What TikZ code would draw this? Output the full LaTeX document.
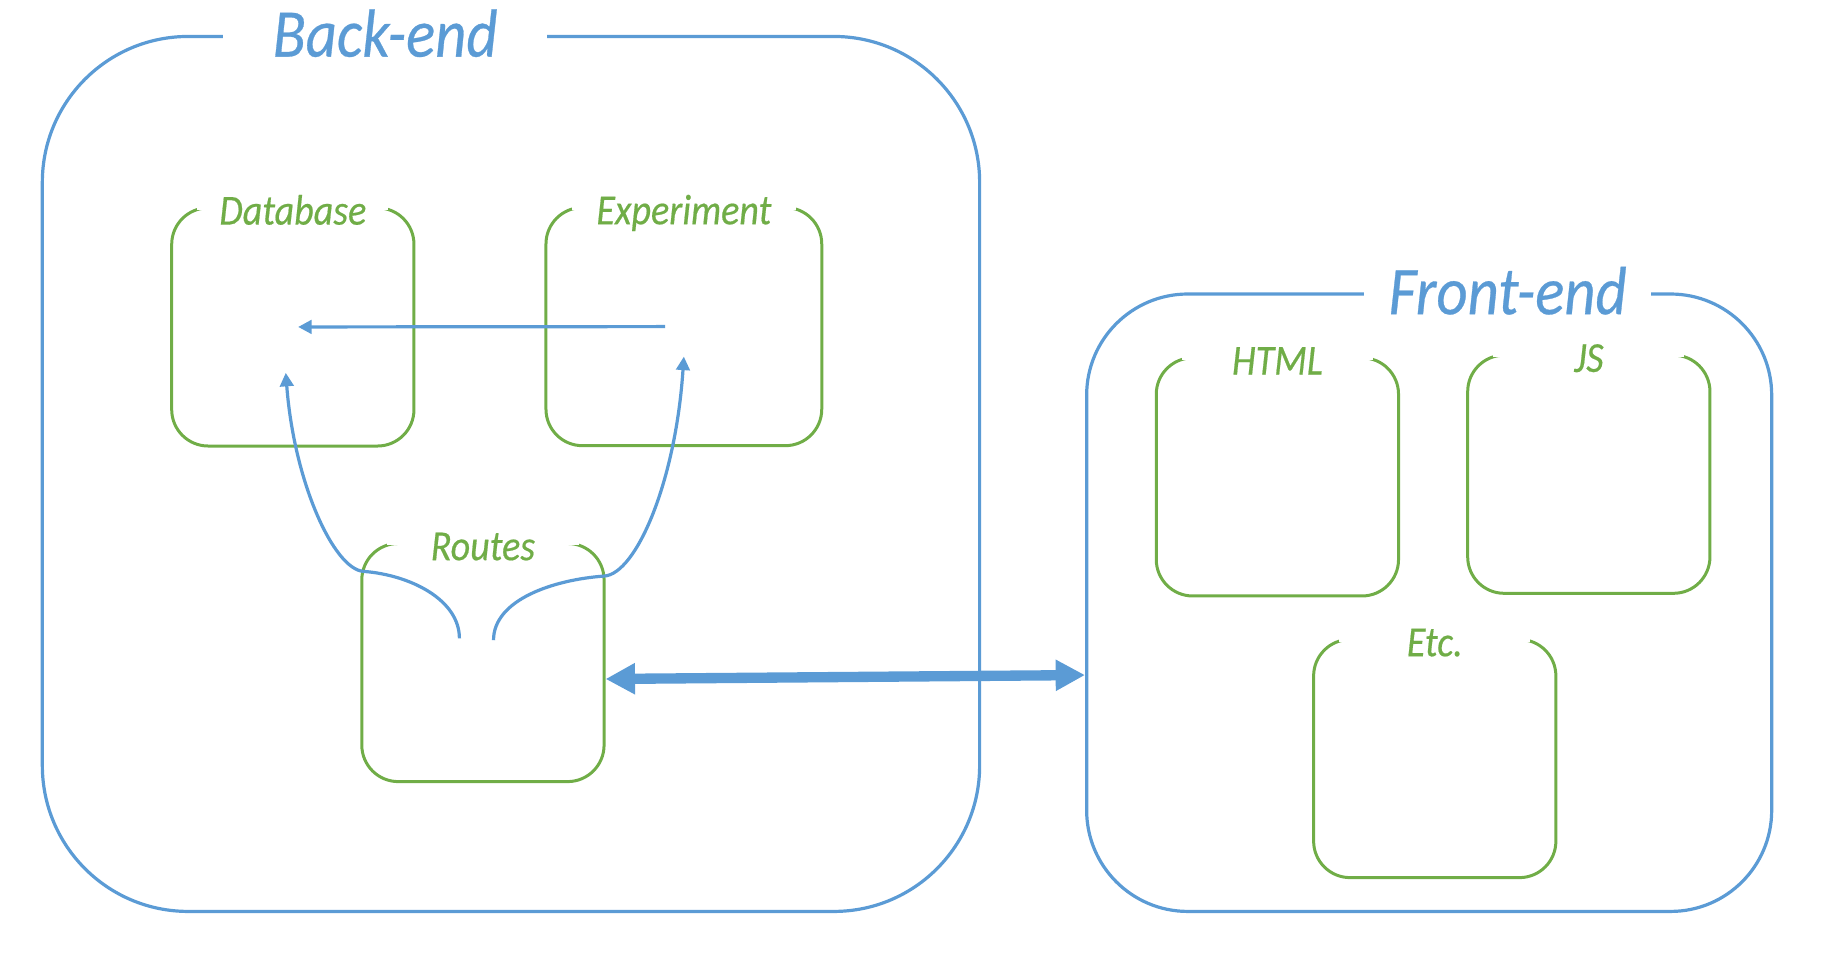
\documentclass[tikz,border=0pt]{standalone}
\usepackage{fontspec}
\setmainfont{Carlito}[FakeStretch=0.89,FakeBold=0.4]
\usetikzlibrary{arrows.meta}
\definecolor{bblue}{HTML}{5B9BD5}
\definecolor{bgreen}{HTML}{70AD47}
\tikzset{bigbox/.style={draw=bblue,line width=1.55pt,rounded corners=#1,inner sep=0pt},
  grbox/.style={draw=bgreen,line width=1.45pt,rounded corners=0.62cm,inner sep=0pt,
    minimum width=4.12cm,minimum height=4.05cm},
  grlab/.style={text=bgreen,inner sep=0pt,text height=0.46cm,text depth=0pt,
    font=\fontsize{20.7}{24}\selectfont\itshape},
  bigtitle/.style={text=bblue,fill=white,inner sep=0pt,text height=0.74cm,text depth=0pt,
    font=\fontsize{33}{40}\selectfont\itshape},
  thinarr/.style={draw=bblue,line width=1.55pt,-{Triangle[length=0.23cm,width=0.23cm]}},
  thickarr/.style={draw=bblue,line width=5pt,
    {Triangle[length=0.5cm,width=0.5cm]}-{Triangle[length=0.5cm,width=0.5cm]}}}

\begin{document}
\begin{tikzpicture}
  \useasboundingbox (0,0) rectangle (31.36,-16.3);
  % the two big parts
  \node[bigbox=2.48cm,minimum width=15.94cm,minimum height=14.88cm] (back) at (8.69,-8.06) {};
  \node[bigbox=1.72cm,minimum width=11.65cm,minimum height=10.5cm] (front) at (24.305,-10.25) {};
  \node[bigtitle,minimum width=5.5cm] (backlab) at ([xshift=-2.14cm]back.north) {Back-end};
  \node[bigtitle,minimum width=4.88cm] (frontlab) at ([xshift=1.335cm]front.north) {Front-end};

  % inner boxes
  \node[grbox] (db) at (4.98,-5.56) {};
  \node[grbox,minimum width=4.69cm] (exp) at (11.63,-5.554) {};
  \node[grbox] (routes) at (8.213,-11.267) {};
  \node[grbox] (html) at (21.724,-8.11) {};
  \node[grbox] (js) at (27.02,-8.065) {};
  \node[grbox] (etc) at (24.4,-12.9) {};
  \foreach \b in {db,exp,routes,html,js,etc}
    \fill[white] ([xshift=0.46cm,yshift=0.2cm]\b.north west) rectangle ([xshift=-0.46cm,yshift=-0.06cm]\b.north east);
  \node[grlab] (dblab) at ([yshift=-0.08cm]db.north) {Database};
  \node[grlab] (explab) at ([yshift=-0.08cm]exp.north) {Experiment};
  \node[grlab] (routeslab) at ([yshift=-0.08cm]routes.north) {Routes};
  \node[grlab] (htmllab) at ([yshift=-0.08cm]html.north) {HTML};
  \node[grlab] (jslab) at ([yshift=-0.08cm]js.north) {JS};
  \node[grlab] (etclab) at ([yshift=-0.08cm]etc.north) {Etc.};

  % links
  \coordinate (bendl) at ([shift={(0.05,-0.5)}]routes.north west);
  \coordinate (bendr) at ([shift={(-0.02,-0.58)}]routes.north east);
  \draw[thinarr] ([xshift=-0.32cm]exp.center) -- ([xshift=0.09cm]db.center);
  \draw[thinarr] ([xshift=-0.4cm,yshift=0.41cm]routes.center) .. controls +(0,0.66) and +(0.8,-0.06) .. (bendl)
    .. controls +(-0.5,0.04) and +(0.14,-1.86) .. ([xshift=-0.12cm,yshift=-0.78cm]db.center);
  \draw[thinarr] ([xshift=0.18cm,yshift=0.38cm]routes.center) .. controls +(0,0.69) and +(-0.86,-0.06) .. (bendr)
    .. controls +(0.54,0.04) and +(-0.14,-2.13) .. ([yshift=-0.51cm]exp.center);
  \draw[thickarr] ([yshift=-0.28cm]routes.east) -- ([yshift=-1.23cm]front.west);
\end{tikzpicture}
\end{document}
